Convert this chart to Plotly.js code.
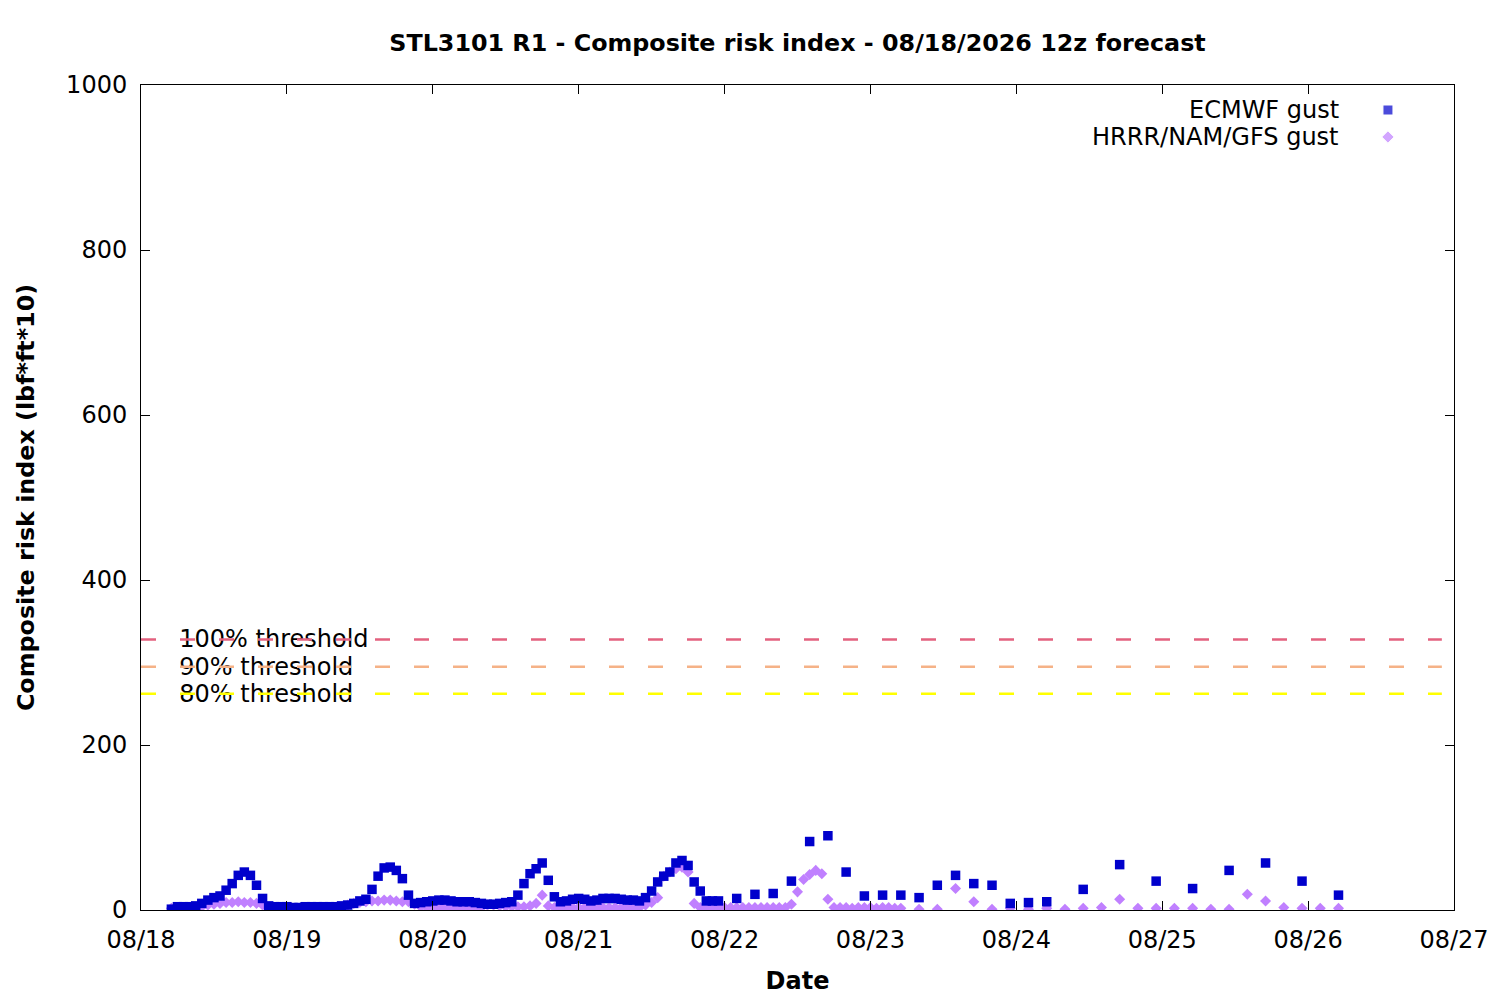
<!DOCTYPE html>
<html>
<head>
<meta charset="utf-8">
<script src="https://cdn.plot.ly/plotly-3.0.1.min.js"></script>
<style>
    html, body { margin: 0; padding: 0; background: #fff; }
    #chart { width: 1500px; height: 1000px; }
</style>
</head>
<body>
<div id="chart"></div>
<script>
// Forecast start (lead hours are counted from here)
var START = Date.UTC(2026, 7, 18, 0, 0, 0);

// ECMWF gust: hourly leads 5..95, then 3-hourly, then 6-hourly
var ecmwfHourly = [
    1, 4, 4, 4, 5, 8, 12, 15, 17, 24, 32, 42, 46, 42, 30, 14, 5, 4, 4, 4,
    3, 3, 4, 4, 4, 4, 4, 4, 5, 6, 8, 11, 13, 25, 41, 51, 52, 48, 38, 18,
    8, 9, 10, 11, 12, 12, 11, 10, 10, 10, 9, 8, 7, 7, 8, 9, 10, 18, 32, 44,
    50, 57, 36, 16, 10, 11, 13, 14, 13, 11, 12, 14, 14, 14, 13, 12, 12, 11, 15, 23,
    34, 41, 46, 57, 60, 54, 34, 23, 11, 11, 11
];
var ecmwfLateHours  = [98, 101, 104, 107, 110, 113, 116, 119, 122, 125, 128, 131, 134, 137, 140, 143, 146, 149,
                       155, 161, 167, 173, 179, 185, 191, 197];
var ecmwfLateValues = [14, 19, 20, 35, 83, 90, 46, 17, 18, 18, 15, 30, 42, 32, 30, 8, 9, 10,
                       25, 55, 35, 26, 48, 57, 35, 18];

// HRRR/NAM/GFS gust: hourly leads 5..125, then 3-hourly
var hrrrHourly = [
    2, 2, 2, 2, 3, 4, 6, 7, 8, 9, 9, 10, 9, 9, 8, 6, 3, 2, 2, 2,
    2, 2, 2, 2, 2, 2, 2, 2, 4, 6, 8, 9, 10, 11, 11, 12, 12, 11, 10, 10,
    7, 4, 3, 3, 3, 3, 3, 3, 3, 3, 3, 3, 6, 6, 5, 4, 4, 4, 4, 5,
    8, 18, 5, 3, 3, 3, 3, 3, 3, 3, 3, 3, 3, 3, 3, 3, 3, 3, 6, 9,
    15, 41, 46, 50, 52, 46, 8, 3, 3, 3, 3, 3, 3, 3, 3, 3, 3, 3, 3, 3,
    3, 3, 7, 22, 37, 43, 48, 44, 13, 3, 3, 3, 2, 3, 3, 3, 2, 3, 3, 2,
    2
];
var hrrrLateHours  = [128, 131, 134, 137, 140, 143, 146, 149, 152, 155, 158, 161,
                      164, 167, 170, 173, 176, 179, 182, 185, 188, 191, 194, 197];
var hrrrLateValues = [1, 1, 26, 10, 1, 2, 1, 2, 1, 2, 3, 13,
                      2, 2, 2, 2, 1, 1, 19, 11, 3, 2, 2, 2];

// Threshold levels
var thrLabels = ['100% threshold', '90% threshold', '80% threshold'];
var thrValues = [328, 295, 262];
var thrColors = ['#e3617f', '#f5b287', '#ffff00'];

// Axis ticks
var yTicks = [0, 200, 400, 600, 800, 1000];
var xTickDays = ['2026-08-18', '2026-08-19', '2026-08-20', '2026-08-21', '2026-08-22',
                 '2026-08-23', '2026-08-24', '2026-08-25', '2026-08-26', '2026-08-27'];
var xTickText = ['08/18', '08/19', '08/20', '08/21', '08/22', '08/23', '08/24', '08/25', '08/26', '08/27'];

var FONT = 'DejaVu Sans, Verdana, sans-serif';
var FS = 24;


// Lead hour -> date string
function leadToDate(h) {
    var d = new Date(START + h * 3600000);
    return d.toISOString().replace('T', ' ').substring(0, 19);
}

// Hourly leads from a first lead
function hourlyLeads(first, n) {
    var out = [];
    for(var i = 0; i < n; i++) {
        out.push(first + i);
    }
    return out;
}


function drawChart() {

    var ecmwfX = hourlyLeads(5, ecmwfHourly.length).concat(ecmwfLateHours).map(leadToDate);
    var ecmwfY = ecmwfHourly.concat(ecmwfLateValues);
    var hrrrX  = hourlyLeads(5, hrrrHourly.length).concat(hrrrLateHours).map(leadToDate);
    var hrrrY  = hrrrHourly.concat(hrrrLateValues);

    var data = [];

    // Threshold labels first, so the dashed lines go over them
    for(var i = 0; i < thrValues.length; i++) {
        data.push({
            x: [leadToDate(6.3)],
            y: [thrValues[i] - 2.5],
            mode: 'text',
            text: [thrLabels[i]],
            textposition: 'middle right',
            textfont: {family: FONT, size: FS, color: '#000'},
            cliponaxis: false,
            showlegend: false,
            hoverinfo: 'skip'
        });
    }

    // Threshold lines across the range
    for(var i = 0; i < thrValues.length; i++) {
        data.push({
            x: [xTickDays[0], leadToDate(214)],
            y: [thrValues[i], thrValues[i]],
            mode: 'lines',
            line: {color: thrColors[i], width: 2.5, dash: '15px,24px'},
            showlegend: false,
            hoverinfo: 'skip'
        });
    }

    // Model series
    data.push({
        x: hrrrX, y: hrrrY,
        mode: 'markers', type: 'scatter',
        name: 'HRRR/NAM/GFS gust',
        marker: {symbol: 'diamond', size: 8.5, color: '#c080ff'},
        showlegend: false
    });
    data.push({
        x: ecmwfX, y: ecmwfY,
        mode: 'markers', type: 'scatter',
        name: 'ECMWF gust',
        marker: {symbol: 'square', size: 9.5, color: '#0000cc'},
        showlegend: false
    });

    // Key markers (drawn on an overlay axis matching the plot area)
    data.push({
        x: [0.9497, 0.9497], y: [0.9697, 0.937],
        xaxis: 'x2', yaxis: 'y2',
        mode: 'markers',
        marker: {symbol: ['square', 'diamond'], size: [10, 9.5], color: ['#0000cc', '#c080ff']},
        showlegend: false, hoverinfo: 'skip'
    });

    var axisBase = {
        showgrid: false, zeroline: false,
        showline: true, linecolor: '#000', linewidth: 1, mirror: 'ticks',
        ticks: 'inside', ticklen: 9, tickcolor: '#000', tickwidth: 1,
        tickfont: {family: FONT, size: FS, color: '#000'}
    };

    var layout = {
        width: 1500, height: 1000,
        margin: {l: 141, r: 46, t: 85, b: 90},
        paper_bgcolor: '#fff', plot_bgcolor: '#fff',
        showlegend: false,
        title: {
            text: '<b>STL3101 R1 - Composite risk index - 08/18/2026 12z forecast</b>',
            font: {family: FONT, size: 23.8, color: '#000'},
            x: 0.5, xref: 'paper', y: 0.957, yref: 'container', yanchor: 'middle'
        },
        xaxis: Object.assign({}, axisBase, {
            type: 'date',
            range: [xTickDays[0], xTickDays[xTickDays.length - 1]],
            tickmode: 'array', tickvals: xTickDays, ticktext: xTickText,
            ticklabelstandoff: 8,
            title: {text: '<b>Date</b>', font: {family: FONT, size: FS, color: '#000'}, standoff: 19}
        }),
        yaxis: Object.assign({}, axisBase, {
            range: [0, 1000],
            tickmode: 'array', tickvals: yTicks,
            ticklabelstandoff: 8,
            title: {text: '<b>Composite risk index (lbf*ft*10)</b>', font: {family: FONT, size: 23.8, color: '#000'}, standoff: 24}
        }),
        xaxis2: {overlaying: 'x', range: [0, 1], visible: false, fixedrange: true},
        yaxis2: {overlaying: 'y', range: [0, 1], visible: false, fixedrange: true},
        annotations: [
            {xref: 'paper', yref: 'paper', x: 0.9137, y: 0.9697, xanchor: 'right', yanchor: 'middle',
             text: 'ECMWF gust', showarrow: false, font: {family: FONT, size: FS, color: '#000'}},
            {xref: 'paper', yref: 'paper', x: 0.9137, y: 0.937, xanchor: 'right', yanchor: 'middle',
             text: 'HRRR/NAM/GFS gust', showarrow: false, font: {family: FONT, size: FS, color: '#000'}}
        ]
    };

    Plotly.newPlot('chart', data, layout, {displayModeBar: false, staticPlot: true});
}

drawChart();
</script>
</body>
</html>
